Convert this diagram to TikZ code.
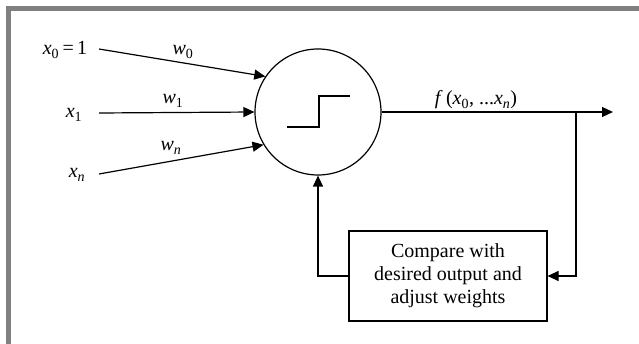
\documentclass[tikz,border=0pt]{standalone}
\usepackage{fontspec}
\setmainfont{Liberation Serif}
\usetikzlibrary{arrows.meta}
\definecolor{framegray}{RGB}{128,128,128}
\newcommand{\mv}[1]{\textit{#1}}
\begin{document}
\begin{tikzpicture}[x=1pt,y=-1pt,
  every node/.style={font=\fontsize{20}{23}\selectfont},
  conn/.style={line width=1.2pt},
  arr/.style={conn,-{Triangle[length=11pt,width=10pt]}},
  lbl/.style={anchor=base,inner sep=0pt}]
\useasboundingbox (0,0) rectangle (639,344);
% frame
\fill[framegray] (6,6) rectangle (639,11);
\fill[framegray] (6,6) rectangle (11,344);
% neuron
\node[draw,circle,line width=1.2pt,minimum size=126pt,inner sep=0pt] (neuron) at (318,112) {};
\draw[conn] (287,127) -- (319,127) -- (319,96) -- (350,96);
% inputs
\node[lbl] (x0) at (65,55) {\mv{x}\textsubscript{0}\,=\,1};
\node[lbl] (x1) at (74,118) {\mv{x}\textsubscript{1}};
\node[lbl] (xn) at (77,178) {\mv{x}\textsubscript{\mv{n}}};
\coordinate (s0) at (99,49);
\coordinate (s1) at (99,113);
\coordinate (sn) at (99,174);
\draw[arr] (s0) -- (neuron.146);
\draw[arr] (s1) -- (neuron.west);
\draw[arr] (sn) -- (neuron.211);
\node[lbl] (w0) at (183,55) {\mv{w}\textsubscript{0}};
\node[lbl] (w1) at (173,104) {\mv{w}\textsubscript{1}};
\node[lbl] (wn) at (171,151) {\mv{w}\textsubscript{\mv{n}}};
% output
\coordinate (out) at (613,112);
\coordinate (br) at (576,112);
\draw[arr] (neuron.east) -- (out);
\node[lbl] (f) at (476,105) {\mv{f}\,(\mv{x}\textsubscript{0}, ...\mv{x}\textsubscript{\mv{n}})};
% compare box
\node[draw,line width=1.2pt,minimum width=198pt,minimum height=90pt,inner sep=0pt,align=center] (cmp) at (448,276) {Compare with\\desired output and\\adjust weights};
\draw[arr] (br) |- (cmp.east);
\draw[arr] (cmp.west) -| (neuron.south);
\end{tikzpicture}
\end{document}
